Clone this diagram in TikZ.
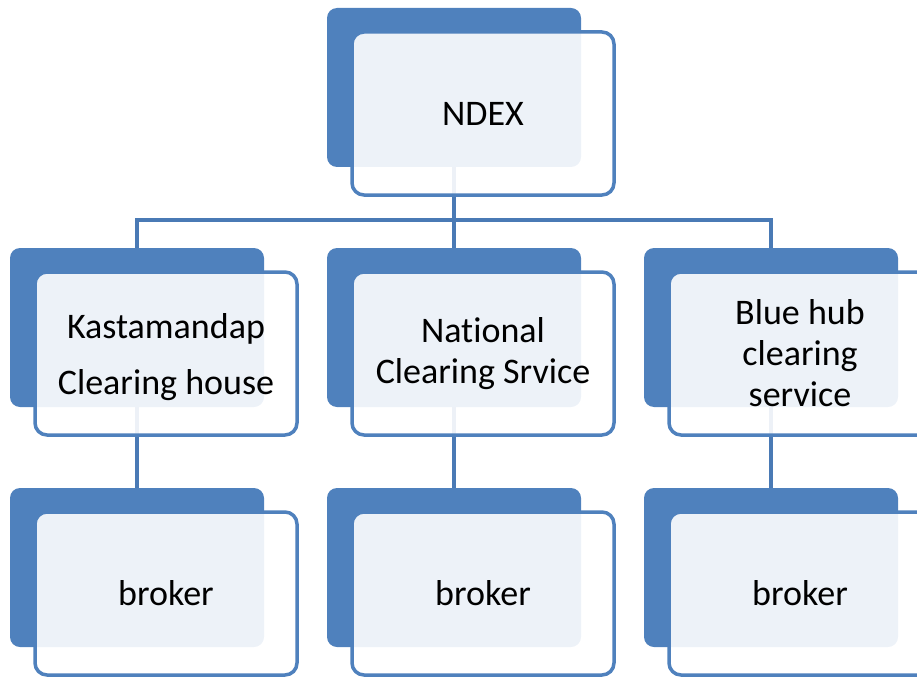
\documentclass[tikz,border=0pt]{standalone}
\usepackage{fontspec}
\setmainfont[Ligatures=NoCommon]{Carlito}
\definecolor{boxblue}{HTML}{4F81BD}
\definecolor{linkblue}{HTML}{4A7AB5}
\tikzset{
  backbox/.style={draw=none,fill=boxblue,rounded corners=10pt,minimum width=254pt,minimum height=159pt,inner sep=0pt},
  frontbox/.style={draw=boxblue,line width=3.5pt,fill=white,fill opacity=0.9,text opacity=1,rounded corners=12pt,
    minimum width=262pt,minimum height=163pt,inner sep=0pt,align=center,font=\fontsize{36}{41}\selectfont},
  link/.style={draw=linkblue,line width=3.5pt}
}
\begin{document}
\begin{tikzpicture}[x=1pt,y=-1pt]
\useasboundingbox (0,0) rectangle (917,679);

%dark back boxes
\node[backbox] (ndexback) at (454,87.5) {};
\node[backbox] (kcsback) at (137,327.5) {};
\node[backbox] (ncsback) at (454,327.5) {};
\node[backbox] (bhcback) at (771,327.5) {};
\node[backbox] (bk1back) at (137,567.5) {};
\node[backbox] (bk2back) at (454,567.5) {};
\node[backbox] (bk3back) at (771,567.5) {};

%connectors, under the light boxes
\draw[link] (ndexback.south) -- (ncsback.north);
\draw[link] (kcsback.north) -- ++(0,-28) -| (bhcback.north);
\draw[link] (kcsback.south) -- (bk1back.north);
\draw[link] (ncsback.south) -- (bk2back.north);
\draw[link] (bhcback.south) -- (bk3back.north);

%light front boxes with the text
\node[frontbox] (ndex) at ([shift={(29,26)}]ndexback) {NDEX};
\node[frontbox,text depth=-2pt] (kcs) at ([shift={(29,26)}]kcsback) {Kastamandap\\[15pt]Clearing house};
\node[frontbox] (ncs) at ([shift={(29,26)}]ncsback) {National\\Clearing Srvice};
\node[frontbox] (bhc) at ([shift={(29,26)}]bhcback) {Blue hub\\clearing\\service};
\node[frontbox] (bk1) at ([shift={(29,26)}]bk1back) {broker};
\node[frontbox] (bk2) at ([shift={(29,26)}]bk2back) {broker};
\node[frontbox] (bk3) at ([shift={(29,26)}]bk3back) {broker};
\end{tikzpicture}
\end{document}
